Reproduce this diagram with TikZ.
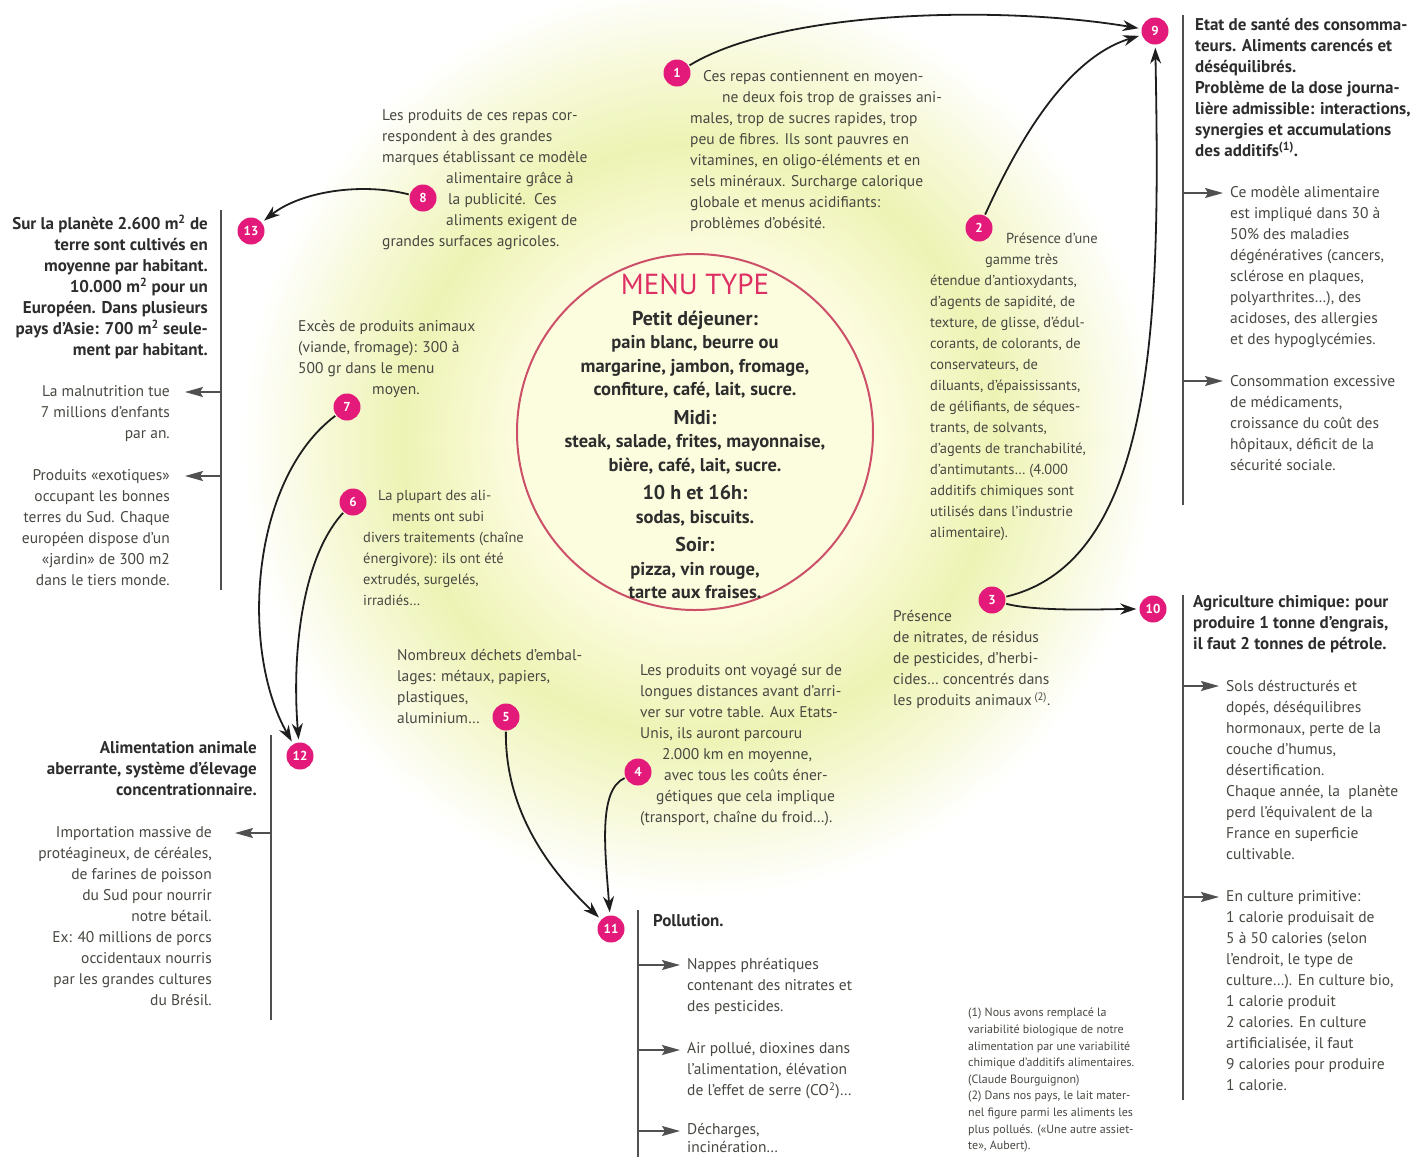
\documentclass[tikz,border=0pt]{standalone}
\usepackage{fontspec}
\setmainfont{PT Sans}
\usetikzlibrary{arrows.meta,positioning}
\definecolor{bubble}{RGB}{228,26,122}
\definecolor{menuc}{RGB}{222,48,100}
\definecolor{ringc}{RGB}{205,80,105}
\definecolor{txtc}{RGB}{72,72,66}
\definecolor{hdc}{RGB}{45,45,45}
\definecolor{linec}{RGB}{30,30,30}
\definecolor{barc}{RGB}{80,80,80}
\definecolor{glowa}{RGB}{252,252,222}
\definecolor{glowb}{RGB}{237,243,180}
\definecolor{glowc}{RGB}{247,249,216}
\tikzstyle{num}=[circle, fill=bubble, text=white, minimum size=27pt, inner sep=0pt, font=\bfseries\fontsize{13}{13}\selectfont]
\tikzstyle{txt}=[anchor=north west, align=left, inner sep=0pt, text=txtc, font=\fontsize{15.5}{21}\selectfont]
\tikzstyle{txtr}=[txt, anchor=north east, align=right]
\tikzstyle{hd}=[txt, text=hdc, font=\bfseries\fontsize{17}{21}\selectfont]
\tikzstyle{hdr}=[hd, anchor=north east, align=right]
\tikzstyle{note}=[txt, font=\fontsize{12}{16.6}\selectfont]
\tikzstyle{menu}=[anchor=north, align=center, inner sep=0pt, text=hdc, font=\bfseries\fontsize{18.5}{23.5}\selectfont]
\tikzstyle{link}=[draw=linec, line width=1.8pt, -{Stealth[length=16pt,width=11pt]}, shorten >=3pt, shorten <=1pt]
\tikzstyle{bar}=[draw=barc, line width=2pt]
\tikzstyle{tick}=[draw=barc, line width=1.6pt, -{Stealth[length=18pt,width=10pt,inset=3pt]}]
\newcommand{\mhead}[1]{{\fontsize{20}{24}\selectfont #1}}

\begin{document}
\begin{tikzpicture}[x=1pt, y=-1pt]
		
		\fill[white] (0,0) rectangle (1422,1157);
		\useasboundingbox (0,0) rectangle (1422,1157);
		
		% glow behind the menu
		\coordinate (gc) at (700,440);
		\foreach \r in {460,456,...,380} {
			\pgfmathtruncatemacro\p{(460-\r)/80*100}
			\fill[glowc!\p!white] (gc) circle (\r pt);
		}
		\foreach \r in {376,372,...,300} {
			\pgfmathtruncatemacro\p{(380-\r)/80*100}
			\fill[glowb!\p!glowc] (gc) circle (\r pt);
		}
		\foreach \r in {296,292,...,190} {
			\pgfmathtruncatemacro\p{(300-\r)/110*100}
			\fill[glowa!\p!glowb] (gc) circle (\r pt);
		}
		\fill[glowa] (gc) circle (186pt);
		
		% menu
		\draw[ringc, line width=2pt] (695,432) circle (178pt);
		\node[menu] at (695,274) (menu) {{\color{menuc}\mdseries\fontsize{29}{30}\selectfont MENU TYPE}\\[7pt]
			\mhead{Petit déjeuner:}\\ pain blanc, beurre ou\\ margarine, jambon, fromage,\\ confiture, café, lait, sucre.\\[5pt]
			\mhead{Midi:}\\ steak, salade, frites, mayonnaise,\\ bière, café, lait, sucre.\\[5pt]
			\mhead{10 h et 16h:}\\ sodas, biscuits.\\[5pt]
			\mhead{Soir:}\\ pizza, vin rouge,\\ tarte aux fraises.};
		
		% numbers
		\node[num] at (677,73) (n1) {1};
		\node[num] at (979,228) (n2) {2};
		\node[num] at (992,600) (n3) {3};
		\node[num] at (638,772) (n4) {4};
		\node[num] at (506,717) (n5) {5};
		\node[num] at (353,502) (n6) {6};
		\node[num] at (347,407) (n7) {7};
		\node[num] at (423,198) (n8) {8};
		\node[num] at (1155,31) (n9) {9};
		\node[num] at (1153,609) (n10) {10};
		\node[num] at (611,929) (n11) {11};
		\node[num] at (300,756) (n12) {12};
		\node[num] at (251,231) (n13) {13};
		
		% texts round the menu
		\node[txt] at (690,70) (t1) {\hspace*{13pt}Ces repas contiennent en moyen-\\ \hspace*{32pt}ne deux fois trop de graisses ani-\\ males, trop de sucres rapides, trop\\ peu de fibres. Ils sont pauvres en\\ vitamines, en oligo-éléments et en\\ sels minéraux. Surcharge calorique\\ globale et menus acidifiants:\\ problèmes d'obésité.};
		\node[txt, font=\fontsize{14.5}{21}\selectfont] at (930,233) (t2) {\hspace*{76pt}Présence d'une\\ \hspace*{55pt}gamme très\\ étendue d'antioxydants,\\ d'agents de sapidité, de\\ texture, de glisse, d'édul-\\ corants, de colorants, de\\ conservateurs, de\\ diluants, d'épaississants,\\ de gélifiants, de séques-\\ trants, de solvants,\\ d'agents de tranchabilité,\\ d'antimutants… (4.000\\ additifs chimiques sont\\ utilisés dans l'industrie\\ alimentaire).};
		\node[txt] at (893,610) (t3) {Présence\\ de nitrates, de résidus\\ de pesticides, d'herbi-\\ cides… concentrés dans\\ les produits animaux\,\textsuperscript{(2)}.};
		\node[txt] at (640,664) (t4) {Les produits ont voyagé sur de\\ longues distances avant d'arri-\\ ver sur votre table. Aux Etats-\\ Unis, ils auront parcouru\\ \hspace*{22pt}2.000 km en moyenne,\\ \hspace*{24pt}avec tous les coûts éner-\\ \hspace*{16pt}gétiques que cela implique\\ (transport, chaîne du froid…).};
		\node[txt] at (397,649) (t5) {Nombreux déchets d'embal-\\ lages: métaux, papiers,\\ plastiques,\\ aluminium…};
		\node[txt, font=\fontsize{14.5}{21}\selectfont] at (363,490) (t6) {\hspace*{15pt}La plupart des ali-\\ \hspace*{29pt}ments ont subi\\ divers traitements (chaîne\\ énergivore): ils ont été\\ extrudés, surgelés,\\ irradiés…};
		\node[txt] at (298,320) (t7) {Excès de produits animaux\\ (viande, fromage): 300 à\\ 500 gr dans le menu\\ \hspace*{74pt}moyen.};
		\node[txt] at (382,109) (t8) {Les produits de ces repas cor-\\ respondent à des grandes\\ marques établissant ce modèle\\ \hspace*{64pt}alimentaire grâce à\\ \hspace*{66pt}la publicité.~~Ces\\ \hspace*{64pt}aliments exigent de\\ grandes surfaces agricoles.};
		
		% consequences
		\node[hd] at (1195,18) (t9) {Etat de santé des consomma-\\ teurs. Aliments carencés et\\ déséquilibrés.\\ Problème de la dose journa-\\ lière admissible: interactions,\\ synergies et accumulations\\ des additifs\textsuperscript{(1)}.};
		\node[txt] at (1230,186) (t9a) {Ce modèle alimentaire\\ est impliqué dans 30 à\\ 50\% des maladies\\ dégénératives (cancers,\\ sclérose en plaques,\\ polyarthrites…), des\\ acidoses, des allergies\\ et des hypoglycémies.};
		\node[txt] at (1230,375) (t9b) {Consommation excessive\\ de médicaments,\\ croissance du coût des\\ hôpitaux, déficit de la\\ sécurité sociale.};
		\node[hd] at (1193,595) (t10) {Agriculture chimique: pour\\ produire 1 tonne d'engrais,\\ il faut 2 tonnes de pétrole.};
		\node[txt] at (1226,680) (t10a) {Sols déstructurés et\\ dopés, déséquilibres\\ hormonaux, perte de la\\ couche d'humus,\\ désertification.\\ Chaque année, la~~planète\\ perd l'équivalent de la\\ France en superficie\\ cultivable.};
		\node[txt] at (1226,890) (t10b) {En culture primitive:\\ 1 calorie produisait de\\ 5 à 50 calories (selon\\ l'endroit, le type de\\ culture…). En culture bio,\\ 1 calorie produit\\ 2 calories. En culture\\ artificialisée, il faut\\ 9 calories pour produire\\ 1 calorie.};
		\node[hd] at (653,914) (t11) {Pollution.};
		\node[txt] at (687,958) (t11a) {Nappes phréatiques\\ contenant des nitrates et\\ des pesticides.};
		\node[txt] at (687,1042) (t11b) {Air pollué, dioxines dans\\ l'alimentation, élévation\\ de l'effet de serre (CO\textsuperscript{2})…};
		\node[txt, font=\fontsize{15.5}{18.5}\selectfont] at (687,1123) (t11c) {Décharges,\\ incinération…};
		\node[hdr] at (257,741) (t12) {Alimentation animale\\ aberrante, système d'élevage\\ concentrationnaire.};
		\node[txtr] at (212,826) (t12a) {Importation massive de\\ protéagineux, de céréales,\\ de farines de poisson\\ du Sud pour nourrir\\ notre bétail.\\ Ex: 40 millions de porcs\\ occidentaux nourris\\ par les grandes cultures\\ du Brésil.};
		\node[hdr] at (208,215) (t13) {Sur la planète 2.600 m\textsuperscript{2} de\\ terre sont cultivés en\\ moyenne par habitant.\\ 10.000 m\textsuperscript{2} pour un\\ Européen. Dans plusieurs\\ pays d'Asie: 700 m\textsuperscript{2} seule-\\ ment par habitant.};
		\node[txtr] at (170,385) (t13a) {La malnutrition tue\\ 7 millions d'enfants\\ par an.};
		\node[txtr] at (170,469) (t13b) {Produits «exotiques»\\ occupant les bonnes\\ terres du Sud. Chaque\\ européen dispose d'un\\ «jardin» de 300 m2\\ dans le tiers monde.};
		\node[note] at (968,1008) (fn) {(1) Nous avons remplacé la\\ variabilité biologique de notre\\ alimentation par une variabilité\\ chimique d'additifs alimentaires.\\ (Claude Bourguignon)\\ (2) Dans nos pays, le lait mater-\\ nel figure parmi les aliments les\\ plus pollués. («Une autre assiet-\\ te», Aubert).};
		
		% curved links
		\path[link] (n1) .. controls +(103,-63) and +(-155,-26) .. (n9);
		\path[link] (n2) .. controls +(31,-68) and +(-95,29) .. (n9);
		\path[link] (n3) .. controls +(168,-40) and +(5,269) .. (n9);
		\path[link] (n3) .. controls +(45,12) and +(-45,0) .. (n10);
		\path[link] (n8) .. controls +(-63,-16) and +(49,-39) .. (n13);
		\path[link] (n7) .. controls +(-97,73) and +(-60,-106) .. (n12);
		\path[link] (n6) .. controls +(-53,58) and +(-8,-96) .. (n12);
		\path[link] (n5) .. controls +(-1,103) and +(-51,-49) .. (n11);
		\path[link] (n4) .. controls +(-40,18) and +(-6,-79) .. (n11);
		
		% bars
		\coordinate (b9) at (1183,15);   \coordinate (e9) at (1183,505);
		\coordinate (b10) at (1183,595); \coordinate (e10) at (1183,1100);
		\coordinate (b11) at (638,910);  \coordinate (e11) at (638,1157);
		\coordinate (b12) at (271,735);  \coordinate (e12) at (271,1020);
		\coordinate (b13) at (221,210);  \coordinate (e13) at (221,590);
		\foreach \k in {9,10,11,12,13}
			\path[bar] (b\k) -- (e\k);
		
		\foreach \k/\y/\d in {9/193/40, 9/381/40, 10/686/36, 10/897/36, 11/965/42, 11/1050/42, 11/1131/42, 12/833/-36, 13/392/-36, 13/476/-36} {
			\coordinate (p) at (b\k |- 0,\y);
			\path[tick] (p) -- ++(\d,0);
		}
		
		\end{tikzpicture}
\end{document}
